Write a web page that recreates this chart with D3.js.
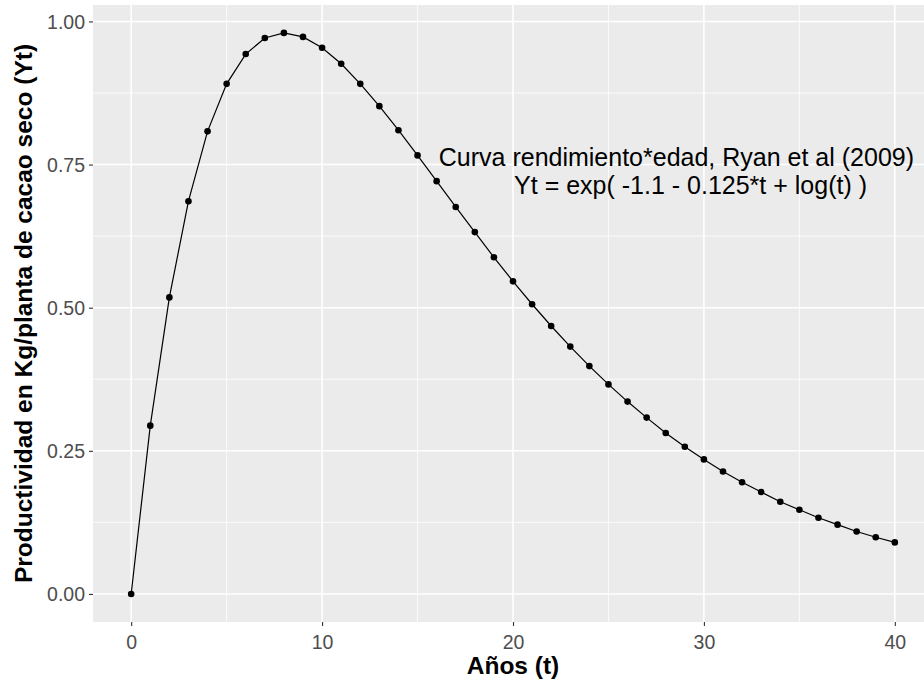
<!DOCTYPE html>
<html>
<head>
<meta charset="utf-8">
<script src="https://cdn.jsdelivr.net/npm/d3@7"></script>
<style>
  html, body { margin: 0; padding: 0; background: #fff; }
  svg { display: block; }
</style>
</head>
<body>
<svg id="chart" width="924" height="681"></svg>
<script>
// ---- data ----
const years = [0,1,2,3,4,5,6,7,8,9,10,11,12,13,14,15,16,17,18,19,20,21,22,23,24,25,26,27,28,29,30,31,32,33,34,35,36,37,38,39,40];
const yields = [0, 0.294, 0.518, 0.686, 0.808, 0.891, 0.943, 0.971, 0.980, 0.973, 0.954,
  0.926, 0.891, 0.852, 0.810, 0.766, 0.721, 0.676, 0.632, 0.588, 0.546,
  0.506, 0.468, 0.432, 0.398, 0.366, 0.336, 0.308, 0.281, 0.257, 0.235,
  0.214, 0.195, 0.178, 0.161, 0.147, 0.133, 0.121, 0.109, 0.099, 0.090];
const xTicks = [0, 10, 20, 30, 40];
const xMinor = [5, 15, 25, 35];
const yTicks = [0, 0.25, 0.5, 0.75, 1.0];
const yMinor = [0.125, 0.375, 0.625, 0.875];
const xLabel = "Años (t)";
const yLabel = "Productividad en Kg/planta de cacao seco (Yt)";
const annotationLines = ["Curva rendimiento*edad, Ryan et al (2009)", "Yt = exp( -1.1 - 0.125*t + log(t) )"];
const annotationX = [28.56, 29.3];
const annotationY = [0.748, 0.698];

// ---- layout ----
const svg = d3.select("#chart");
const panel = { left: 93, right: 933, top: 5, bottom: 622 };
const font = "'Liberation Sans', Arial, Helvetica, sans-serif";

const x = d3.scaleLinear().domain([-2, 42]).range([panel.left, panel.right]);
const y = d3.scaleLinear().domain([-0.049, 1.0287]).range([panel.bottom, panel.top]);

// panel background
svg.append("rect")
  .attr("x", panel.left).attr("y", panel.top)
  .attr("width", panel.right - panel.left).attr("height", panel.bottom - panel.top)
  .attr("fill", "#EBEBEB");

const grid = svg.append("g");
// minor grid
grid.selectAll("line.xmin").data(xMinor).enter().append("line")
  .attr("x1", d => x(d)).attr("x2", d => x(d))
  .attr("y1", panel.top).attr("y2", panel.bottom)
  .attr("stroke", "#fff").attr("stroke-width", 0.8);
grid.selectAll("line.ymin").data(yMinor).enter().append("line")
  .attr("y1", d => y(d)).attr("y2", d => y(d))
  .attr("x1", panel.left).attr("x2", panel.right)
  .attr("stroke", "#fff").attr("stroke-width", 0.8);
// major grid
grid.selectAll("line.xmaj").data(xTicks).enter().append("line")
  .attr("x1", d => x(d)).attr("x2", d => x(d))
  .attr("y1", panel.top).attr("y2", panel.bottom)
  .attr("stroke", "#fff").attr("stroke-width", 1.6);
grid.selectAll("line.ymaj").data(yTicks).enter().append("line")
  .attr("y1", d => y(d)).attr("y2", d => y(d))
  .attr("x1", panel.left).attr("x2", panel.right)
  .attr("stroke", "#fff").attr("stroke-width", 1.6);

// axes
const xAxis = d3.axisBottom(x).tickValues(xTicks).tickFormat(d3.format("d")).tickSize(4).tickPadding(3);
const yAxis = d3.axisLeft(y).tickValues(yTicks).tickFormat(d3.format(".2f")).tickSize(4).tickPadding(3);

const gx = svg.append("g").attr("transform", `translate(0,${panel.bottom})`).call(xAxis);
const gy = svg.append("g").attr("transform", `translate(${panel.left},0)`).call(yAxis);
[gx, gy].forEach(g => {
  g.select(".domain").remove();
  g.selectAll(".tick line").attr("stroke", "#333333").attr("stroke-width", 1.1);
  g.selectAll(".tick text").attr("fill", "#4D4D4D")
    .style("font-family", font).style("font-size", "19.5px");
});
gx.selectAll(".tick text").attr("dy", null).attr("y", 27);
gy.selectAll(".tick text").attr("dy", "0.36em").attr("x", -8);

// line + points
const clip = svg.append("clipPath").attr("id", "clip").append("rect")
  .attr("x", panel.left).attr("y", panel.top)
  .attr("width", panel.right - panel.left).attr("height", panel.bottom - panel.top);
const data = years.map((t, i) => ({ t, v: yields[i] }));
const line = d3.line().x(d => x(d.t)).y(d => y(d.v));
svg.append("path").datum(data)
  .attr("d", line).attr("fill", "none").attr("stroke", "#000").attr("stroke-width", 1.2);
svg.append("g").selectAll("circle").data(data).enter().append("circle")
  .attr("cx", d => x(d.t)).attr("cy", d => y(d.v)).attr("r", 3.3).attr("fill", "#000");

// annotation
svg.append("g").selectAll("text").data(annotationLines).enter().append("text")
  .attr("x", (d, i) => x(annotationX[i]))
  .attr("y", (d, i) => y(annotationY[i]))
  .attr("text-anchor", "middle")
  .style("font-family", font).style("font-size", "25px").attr("fill", "#000")
  .text(d => d);

// axis titles
svg.append("text")
  .attr("x", (panel.left + panel.right) / 2).attr("y", 674)
  .attr("text-anchor", "middle")
  .style("font-family", font).style("font-size", "24.5px").style("font-weight", "bold")
  .text(xLabel);
svg.append("text")
  .attr("transform", `translate(32,${(panel.top + panel.bottom) / 2}) rotate(-90)`)
  .attr("text-anchor", "middle")
  .style("font-family", font).style("font-size", "24.5px").style("font-weight", "bold")
  .text(yLabel);
</script>
</body>
</html>
